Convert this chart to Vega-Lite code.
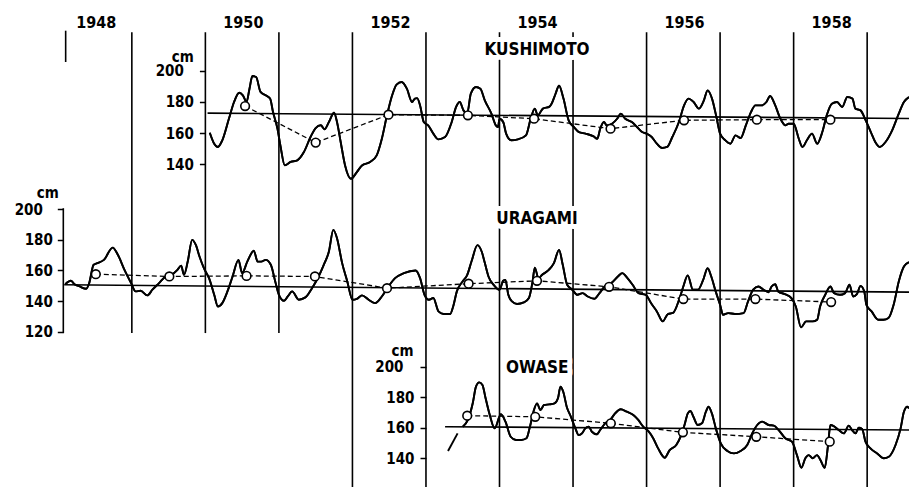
{
  "$schema": "https://vega.github.io/schema/vega-lite/v6.json",
  "padding": 0,
  "spacing": 0,
  "bounds": "flush",
  "background": "white",
  "config": {
    "view": {"stroke": null},
    "axis": {
      "labelFont": "DejaVu Sans Condensed", "labelFontSize": 15, "labelFontWeight": "bold", "labelColor": "black",
      "tickColor": "black", "tickWidth": 1.5, "tickSize": 6, "domain": false, "grid": false,
      "titleFont": "DejaVu Sans Condensed", "titleFontSize": 15, "titleFontWeight": "bold", "titleColor": "black",
      "titleAngle": 0, "titleAlign": "right", "titleBaseline": "alphabetic",
      "labelOverlap": false, "labelFlush": false, "labelBound": false
    }
  },
  "datasets": {
    "years": [{"t":1949},{"t":1950},{"t":1951},{"t":1952},{"t":1953},{"t":1954},{"t":1955},{"t":1956},{"t":1957},{"t":1958},{"t":1959}],
    "yearLabels": [{"t":1948,"label":"1948"},{"t":1950,"label":"1950"},{"t":1952,"label":"1952"},{"t":1954,"label":"1954"},{"t":1956,"label":"1956"},{"t":1958,"label":"1958"}],
    "kushimoto": [
      {"t":1950.06,"v":160.2},{"t":1950.12,"v":153.1},{"t":1950.17,"v":151},{"t":1950.23,"v":155.3},{"t":1950.32,"v":169.2},{"t":1950.39,"v":180},{"t":1950.46,"v":186},{"t":1950.51,"v":184.3},{"t":1950.56,"v":180},{"t":1950.6,"v":188.6},{"t":1950.64,"v":196.8},{"t":1950.69,"v":196.1},{"t":1950.75,"v":186.5},{"t":1950.82,"v":184.3},{"t":1950.88,"v":182.2},{"t":1950.92,"v":173.5},{"t":1950.98,"v":162.8},
      {"t":1951.02,"v":152},{"t":1951.08,"v":139.1},{"t":1951.16,"v":141.3},{"t":1951.25,"v":142.4},{"t":1951.34,"v":147.7},{"t":1951.43,"v":157.4},{"t":1951.5,"v":163.2},{"t":1951.57,"v":165},{"t":1951.62,"v":162.4},{"t":1951.68,"v":167.1},{"t":1951.75,"v":173.1},{"t":1951.79,"v":167.1},{"t":1951.84,"v":154.2},{"t":1951.9,"v":139.1},{"t":1951.98,"v":130.5},
      {"t":1952.06,"v":134.8},{"t":1952.13,"v":139.1},{"t":1952.24,"v":141.3},{"t":1952.33,"v":145.6},{"t":1952.4,"v":156.3},{"t":1952.47,"v":171.4},{"t":1952.54,"v":184.3},{"t":1952.6,"v":191.2},{"t":1952.67,"v":192.9},{"t":1952.74,"v":188.6},{"t":1952.81,"v":180},{"t":1952.85,"v":182.2},{"t":1952.88,"v":182.5},{"t":1952.92,"v":177.8},{"t":1952.97,"v":167.1},
      {"t":1953.03,"v":164.9},{"t":1953.1,"v":159.6},{"t":1953.17,"v":155.9},{"t":1953.26,"v":157.4},{"t":1953.35,"v":167.1},{"t":1953.41,"v":176.8},{"t":1953.46,"v":180},{"t":1953.51,"v":174.6},{"t":1953.56,"v":172.5},{"t":1953.61,"v":185.4},{"t":1953.68,"v":189.7},{"t":1953.74,"v":188.6},{"t":1953.8,"v":181.1},{"t":1953.89,"v":172.5},{"t":1953.95,"v":164.9},{"t":1953.98,"v":163.9},
      {"t":1954.0,"v":169.2},{"t":1954.05,"v":167.1},{"t":1954.09,"v":159.6},{"t":1954.16,"v":155.3},{"t":1954.25,"v":155.9},{"t":1954.36,"v":158.5},{"t":1954.43,"v":170.3},{"t":1954.48,"v":175.7},{"t":1954.52,"v":171.4},{"t":1954.59,"v":175.7},{"t":1954.68,"v":177},{"t":1954.71,"v":179},{"t":1954.76,"v":185},{"t":1954.81,"v":190.5},{"t":1954.87,"v":182.2},{"t":1954.94,"v":168.2},
      {"t":1955.01,"v":163.9},{"t":1955.08,"v":160.6},{"t":1955.17,"v":159.6},{"t":1955.28,"v":157.8},{"t":1955.33,"v":156.3},{"t":1955.37,"v":162.8},{"t":1955.42,"v":167.1},{"t":1955.46,"v":164.9},{"t":1955.53,"v":166},{"t":1955.6,"v":169.2},{"t":1955.65,"v":172.5},{"t":1955.71,"v":169.2},{"t":1955.8,"v":167.1},{"t":1955.87,"v":163.9},{"t":1955.94,"v":160.6},
      {"t":1956.0,"v":159.6},{"t":1956.07,"v":157.4},{"t":1956.14,"v":153.1},{"t":1956.21,"v":150.3},{"t":1956.28,"v":151},{"t":1956.35,"v":157.4},{"t":1956.44,"v":167.1},{"t":1956.51,"v":177.8},{"t":1956.57,"v":182.2},{"t":1956.64,"v":180},{"t":1956.71,"v":175.7},{"t":1956.78,"v":181.1},{"t":1956.83,"v":187.5},{"t":1956.89,"v":182.2},{"t":1956.95,"v":170.3},
      {"t":1957.0,"v":159.6},{"t":1957.07,"v":155.3},{"t":1957.14,"v":153.1},{"t":1957.21,"v":158.5},{"t":1957.28,"v":156.8},{"t":1957.35,"v":164.9},{"t":1957.42,"v":173.5},{"t":1957.48,"v":177.8},{"t":1957.56,"v":177.8},{"t":1957.63,"v":180},{"t":1957.68,"v":183.9},{"t":1957.75,"v":177.8},{"t":1957.82,"v":169.2},{"t":1957.89,"v":164.9},{"t":1957.93,"v":166},
      {"t":1958.0,"v":166},{"t":1958.07,"v":156.3},{"t":1958.12,"v":151},{"t":1958.18,"v":155.3},{"t":1958.25,"v":159.6},{"t":1958.32,"v":153.1},{"t":1958.39,"v":160.6},{"t":1958.45,"v":171.4},{"t":1958.52,"v":178.9},{"t":1958.59,"v":180},{"t":1958.66,"v":176.8},{"t":1958.73,"v":183.2},{"t":1958.8,"v":182.2},{"t":1958.84,"v":175.7},{"t":1958.91,"v":174.6},{"t":1958.98,"v":168.2},
      {"t":1959.05,"v":160.6},{"t":1959.11,"v":154.2},{"t":1959.17,"v":151},{"t":1959.25,"v":154.2},{"t":1959.34,"v":161.7},{"t":1959.43,"v":172.5},{"t":1959.5,"v":180},{"t":1959.569,"v":183.2}
    ],
    "kushimotoTrend": [{"t":1950.03,"v":172.8},{"t":1959.569,"v":169.4}],
    "kushimotoMeans": [{"t":1950.54,"v":177.4},{"t":1951.5,"v":153.8},{"t":1952.49,"v":171.8},{"t":1953.57,"v":171.4},{"t":1954.47,"v":169.2},{"t":1955.51,"v":162.8},{"t":1956.51,"v":168.2},{"t":1957.5,"v":168.6},{"t":1958.5,"v":168.6}],
    "uragami": [
      {"t":1948.095,"v":151.1},{"t":1948.17,"v":153.3},{"t":1948.22,"v":151.1},{"t":1948.29,"v":149.6},{"t":1948.38,"v":148.1},{"t":1948.42,"v":151.8},{"t":1948.48,"v":163.7},{"t":1948.53,"v":164.8},{"t":1948.62,"v":166.9},{"t":1948.74,"v":174.9},{"t":1948.81,"v":170.2},{"t":1948.9,"v":160.4},{"t":1948.99,"v":151.8},
      {"t":1949.05,"v":146.4},{"t":1949.12,"v":146.8},{"t":1949.21,"v":143.8},{"t":1949.28,"v":147.5},{"t":1949.37,"v":151.8},{"t":1949.46,"v":156.1},{"t":1949.54,"v":157.2},{"t":1949.62,"v":160.4},{"t":1949.67,"v":163.2},{"t":1949.71,"v":157.2},{"t":1949.76,"v":165.8},{"t":1949.82,"v":179.9},{"t":1949.87,"v":176.6},{"t":1949.92,"v":169.1},{"t":1949.98,"v":161.5},
      {"t":1950.05,"v":155},{"t":1950.12,"v":144.2},{"t":1950.17,"v":136.6},{"t":1950.23,"v":138.8},{"t":1950.3,"v":146.4},{"t":1950.37,"v":156.1},{"t":1950.45,"v":166.9},{"t":1950.5,"v":158.3},{"t":1950.57,"v":165.8},{"t":1950.66,"v":172.8},{"t":1950.71,"v":165.8},{"t":1950.76,"v":165.8},{"t":1950.82,"v":166.9},{"t":1950.89,"v":163.7},{"t":1950.95,"v":152.9},
      {"t":1951.0,"v":144.2},{"t":1951.07,"v":140.3},{"t":1951.12,"v":143.1},{"t":1951.18,"v":146.4},{"t":1951.27,"v":141},{"t":1951.36,"v":142.5},{"t":1951.45,"v":148.5},{"t":1951.54,"v":156.1},{"t":1951.61,"v":163.7},{"t":1951.68,"v":172.3},{"t":1951.74,"v":186.4},{"t":1951.79,"v":181},{"t":1951.86,"v":164.8},{"t":1951.93,"v":152.9},
      {"t":1952.0,"v":141},{"t":1952.06,"v":141.6},{"t":1952.13,"v":143.8},{"t":1952.22,"v":141},{"t":1952.31,"v":138.8},{"t":1952.4,"v":143.1},{"t":1952.49,"v":149.6},{"t":1952.58,"v":155},{"t":1952.7,"v":158.3},{"t":1952.86,"v":160},{"t":1952.92,"v":155},{"t":1952.98,"v":144.2},
      {"t":1953.04,"v":141},{"t":1953.1,"v":142.1},{"t":1953.17,"v":133.4},{"t":1953.24,"v":131.7},{"t":1953.33,"v":131.7},{"t":1953.37,"v":136.6},{"t":1953.42,"v":146.4},{"t":1953.5,"v":153},{"t":1953.56,"v":157},{"t":1953.62,"v":166},{"t":1953.7,"v":176.5},{"t":1953.76,"v":172},{"t":1953.8,"v":165},{"t":1953.85,"v":156.1},{"t":1953.92,"v":150.7},
      {"t":1954.0,"v":147.5},{"t":1954.05,"v":153.3},{"t":1954.08,"v":153.9},{"t":1954.12,"v":144.2},{"t":1954.17,"v":139.9},{"t":1954.24,"v":138.2},{"t":1954.33,"v":139.2},{"t":1954.4,"v":142.1},{"t":1954.45,"v":152.9},{"t":1954.48,"v":161.9},{"t":1954.53,"v":155},{"t":1954.58,"v":157.2},{"t":1954.67,"v":160.4},{"t":1954.74,"v":164.8},{"t":1954.81,"v":173.4},{"t":1954.86,"v":163.7},{"t":1954.92,"v":150.7},{"t":1954.99,"v":147.5},
      {"t":1955.06,"v":144.2},{"t":1955.13,"v":145.3},{"t":1955.2,"v":143.1},{"t":1955.29,"v":141.6},{"t":1955.36,"v":145.3},{"t":1955.43,"v":149.6},{"t":1955.52,"v":151.8},{"t":1955.61,"v":156.1},{"t":1955.67,"v":158.3},{"t":1955.74,"v":155},{"t":1955.81,"v":150.7},{"t":1955.89,"v":145.3},{"t":1955.99,"v":144.2},
      {"t":1956.06,"v":138.8},{"t":1956.14,"v":133.4},{"t":1956.22,"v":126.9},{"t":1956.29,"v":131.7},{"t":1956.36,"v":132.4},{"t":1956.45,"v":142.1},{"t":1956.5,"v":149.6},{"t":1956.56,"v":156.8},{"t":1956.63,"v":147.5},{"t":1956.7,"v":147.5},{"t":1956.77,"v":153.9},{"t":1956.83,"v":161.5},{"t":1956.88,"v":156.1},{"t":1956.94,"v":146.4},
      {"t":1957.0,"v":137.7},{"t":1957.04,"v":131.2},{"t":1957.11,"v":132.3},{"t":1957.2,"v":131.7},{"t":1957.32,"v":132.3},{"t":1957.38,"v":139.9},{"t":1957.45,"v":147.5},{"t":1957.52,"v":149.6},{"t":1957.59,"v":147.5},{"t":1957.66,"v":145.9},{"t":1957.7,"v":149.6},{"t":1957.75,"v":151.1},{"t":1957.79,"v":146.4},{"t":1957.88,"v":144.6},{"t":1957.97,"v":142.1},
      {"t":1958.03,"v":136.6},{"t":1958.1,"v":123},{"t":1958.17,"v":126.9},{"t":1958.26,"v":126.9},{"t":1958.32,"v":128},{"t":1958.36,"v":136.6},{"t":1958.43,"v":144.2},{"t":1958.5,"v":149.6},{"t":1958.55,"v":145.3},{"t":1958.63,"v":144.2},{"t":1958.7,"v":145.3},{"t":1958.76,"v":150.7},{"t":1958.81,"v":143.1},{"t":1958.86,"v":144.6},{"t":1958.91,"v":150},{"t":1958.96,"v":146.4},{"t":1958.99,"v":137.7},
      {"t":1959.06,"v":133.4},{"t":1959.15,"v":128},{"t":1959.22,"v":128},{"t":1959.29,"v":129.1},{"t":1959.36,"v":137.7},{"t":1959.43,"v":152.9},{"t":1959.5,"v":162.6},{"t":1959.569,"v":165.4}
    ],
    "uragamiTrend": [{"t":1948.08,"v":150.7},{"t":1959.569,"v":145.9}],
    "uragamiMeans": [{"t":1948.51,"v":157.6},{"t":1949.51,"v":156.1},{"t":1950.56,"v":156.5},{"t":1951.49,"v":156.1},{"t":1952.47,"v":148.5},{"t":1953.58,"v":151.4},{"t":1954.51,"v":153.3},{"t":1955.49,"v":149.4},{"t":1956.5,"v":141.4},{"t":1957.48,"v":141.4},{"t":1958.51,"v":139.5}],
    "owase": [
      {"t":1953.5,"v":160.7},{"t":1953.57,"v":165.1},{"t":1953.636,"v":176},{"t":1953.68,"v":186.9},{"t":1953.724,"v":189.7},{"t":1953.768,"v":188},{"t":1953.811,"v":179.3},{"t":1953.868,"v":168.3},{"t":1953.934,"v":159.6},
      {"t":1954.019,"v":168.8},{"t":1954.081,"v":164},{"t":1954.152,"v":154.1},{"t":1954.224,"v":152},{"t":1954.295,"v":152},{"t":1954.367,"v":153.1},{"t":1954.414,"v":160.7},{"t":1954.462,"v":170.5},{"t":1954.51,"v":176},{"t":1954.557,"v":171.6},{"t":1954.605,"v":174.9},{"t":1954.676,"v":175.3},{"t":1954.748,"v":176},{"t":1954.795,"v":179.3},{"t":1954.829,"v":186.9},{"t":1954.867,"v":183.6},{"t":1954.914,"v":173.8},{"t":1954.971,"v":167.2},
      {"t":1955.032,"v":159.6},{"t":1955.077,"v":155.2},{"t":1955.122,"v":156.3},{"t":1955.167,"v":159.6},{"t":1955.212,"v":160.7},{"t":1955.257,"v":157.4},{"t":1955.324,"v":155.7},{"t":1955.369,"v":158.5},{"t":1955.437,"v":162.9},{"t":1955.505,"v":165.1},{"t":1955.572,"v":169.4},{"t":1955.649,"v":172.1},{"t":1955.73,"v":170.5},{"t":1955.82,"v":168.3},{"t":1955.887,"v":165.1},{"t":1955.955,"v":160.7},
      {"t":1956.022,"v":157.9},{"t":1956.09,"v":153.1},{"t":1956.157,"v":146.5},{"t":1956.247,"v":140.4},{"t":1956.314,"v":145.4},{"t":1956.404,"v":148.7},{"t":1956.471,"v":155.2},{"t":1956.516,"v":161.8},{"t":1956.561,"v":169.4},{"t":1956.596,"v":171},{"t":1956.637,"v":167.2},{"t":1956.695,"v":161.8},{"t":1956.753,"v":162.9},{"t":1956.807,"v":170.5},{"t":1956.843,"v":173.8},{"t":1956.888,"v":169.4},{"t":1956.942,"v":159.6},
      {"t":1957.009,"v":149.8},{"t":1957.099,"v":144.8},{"t":1957.189,"v":143.2},{"t":1957.279,"v":144.8},{"t":1957.369,"v":148.7},{"t":1957.437,"v":156.3},{"t":1957.505,"v":161.8},{"t":1957.572,"v":164},{"t":1957.662,"v":161.8},{"t":1957.73,"v":161.4},{"t":1957.797,"v":158.5},{"t":1957.887,"v":153.1},{"t":1957.977,"v":150.9},
      {"t":1958.045,"v":142.1},{"t":1958.105,"v":133.8},{"t":1958.159,"v":140},{"t":1958.205,"v":142.1},{"t":1958.259,"v":140},{"t":1958.318,"v":142.1},{"t":1958.364,"v":138.9},{"t":1958.423,"v":133.8},{"t":1958.468,"v":148.7},{"t":1958.5,"v":161.8},{"t":1958.545,"v":161.1},{"t":1958.614,"v":158.5},{"t":1958.682,"v":156.3},{"t":1958.75,"v":161.4},{"t":1958.795,"v":158.5},{"t":1958.841,"v":156.3},{"t":1958.886,"v":160},{"t":1958.932,"v":159.2},{"t":1958.977,"v":150.9},
      {"t":1959.045,"v":146.5},{"t":1959.136,"v":143.2},{"t":1959.227,"v":140},{"t":1959.295,"v":141},{"t":1959.386,"v":148.7},{"t":1959.455,"v":159.6},{"t":1959.5,"v":170.5},{"t":1959.545,"v":173.8},{"t":1959.569,"v":172.7}
    ],
    "owaseStub": [{"t":1953.3,"v":144.8},{"t":1953.43,"v":156.3}],
    "owaseTrend": [{"t":1953.26,"v":160.7},{"t":1959.569,"v":158.5}],
    "owaseMeans": [{"t":1953.561,"v":167.9},{"t":1954.486,"v":167.2},{"t":1955.514,"v":162.9},{"t":1956.494,"v":157},{"t":1957.492,"v":154.1},{"t":1958.491,"v":150.9}]
  },
  "vconcat": [
    {
      "width": 909, "height": 190,
      "layer": [
        {"data": {"name": "kushimoto"}, "mark": {"type": "line", "color": "black", "strokeWidth": 1.9, "interpolate": "monotone"},
          "encoding": {
            "x": {"field": "t", "type": "quantitative", "scale": {"domain": [1947.207, 1959.569], "nice": false, "zero": false}, "axis": null},
            "y": {"field": "v", "type": "quantitative", "scale": {"domain": [123.23, 245.8], "nice": false, "zero": false},
              "axis": {"values": [140, 160, 180, 200], "tickCount": 20, "offset": -205.4, "title": "cm", "titleX": -12, "titleY": 61, "labelOverlap": false,
                "labelPadding": {"condition": {"test": "datum.value === 200", "value": 16}, "value": 6}}}
          }},
        {"data": {"name": "years"}, "mark": {"type": "rule", "color": "black", "strokeWidth": 1.6},
          "encoding": {"x": {"field": "t", "type": "quantitative"}, "y": {"datum": 225}, "y2": {"datum": 123.23}}},
        {"data": {"values": [{}]}, "mark": {"type": "rule", "color": "black", "strokeWidth": 1.6},
          "encoding": {"x": {"datum": 1948.1}, "y": {"datum": 226}, "y2": {"datum": 205.8}}},
        {"data": {"name": "yearLabels"}, "mark": {"type": "text", "dx": 38, "font": "DejaVu Sans Condensed", "fontSize": 16, "fontWeight": "bold", "baseline": "middle", "align": "center", "color": "black"},
          "encoding": {"x": {"field": "t", "type": "quantitative"}, "y": {"datum": 231}, "text": {"field": "label", "type": "nominal"}}},
        {"data": {"values": [{}]}, "mark": {"type": "text", "text": "KUSHIMOTO", "font": "DejaVu Sans Condensed", "fontSize": 17, "fontWeight": "bold", "baseline": "middle", "align": "center", "fill": "white", "stroke": "white", "strokeWidth": 10, "strokeJoin": "round"},
          "encoding": {"x": {"datum": 1954.51}, "y": {"datum": 213.5}}},
        {"data": {"values": [{}]}, "mark": {"type": "text", "text": "KUSHIMOTO", "font": "DejaVu Sans Condensed", "fontSize": 17, "fontWeight": "bold", "baseline": "middle", "align": "center", "color": "black"},
          "encoding": {"x": {"datum": 1954.51}, "y": {"datum": 213.5}}},
        {"data": {"name": "kushimotoTrend"}, "mark": {"type": "line", "color": "black", "strokeWidth": 1.6},
          "encoding": {"x": {"field": "t", "type": "quantitative"}, "y": {"field": "v", "type": "quantitative"}}},
        {"data": {"name": "kushimoto"}, "mark": {"type": "line", "color": "black", "strokeWidth": 1.9, "interpolate": "monotone"},
          "encoding": {"x": {"field": "t", "type": "quantitative"}, "y": {"field": "v", "type": "quantitative"}}},
        {"data": {"name": "kushimotoMeans"}, "mark": {"type": "line", "color": "black", "strokeWidth": 1.3, "strokeDash": [5, 3]},
          "encoding": {"x": {"field": "t", "type": "quantitative"}, "y": {"field": "v", "type": "quantitative"}}},
        {"data": {"name": "kushimotoMeans"}, "mark": {"type": "point", "shape": "circle", "filled": true, "fill": "white", "stroke": "black", "strokeWidth": 1.6, "size": 75, "opacity": 1},
          "encoding": {"x": {"field": "t", "type": "quantitative"}, "y": {"field": "v", "type": "quantitative"}}}
      ]
    },
    {
      "width": 909, "height": 155,
      "layer": [
        {"data": {"name": "uragami"}, "mark": {"type": "line", "color": "black", "strokeWidth": 1.9, "interpolate": "monotone"},
          "encoding": {
            "x": {"field": "t", "type": "quantitative", "scale": {"domain": [1947.207, 1959.569], "nice": false, "zero": false}, "axis": null},
            "y": {"field": "v", "type": "quantitative", "scale": {"domain": [111.54, 212.36], "nice": false, "zero": false},
              "axis": {"values": [120, 140, 160, 180, 200], "tickCount": 20, "offset": -63.3, "title": "cm", "titleX": -5, "titleY": 7, "labelOverlap": false,
                "labelPadding": {"condition": {"test": "datum.value === 200", "value": 15}, "value": 5}}}
          }},
        {"data": {"name": "years"}, "transform": [{"filter": "datum.t <= 1951"}], "mark": {"type": "rule", "color": "black", "strokeWidth": 1.6},
          "encoding": {"x": {"field": "t", "type": "quantitative"}, "y": {"datum": 212.36}, "y2": {"datum": 119.3}}},
        {"data": {"name": "years"}, "transform": [{"filter": "datum.t >= 1952"}], "mark": {"type": "rule", "color": "black", "strokeWidth": 1.6},
          "encoding": {"x": {"field": "t", "type": "quantitative"}, "y": {"datum": 212.36}, "y2": {"datum": 111.54}}},
        {"data": {"values": [{}]}, "mark": {"type": "rule", "color": "black", "strokeWidth": 1.6},
          "encoding": {"x": {"datum": 1948.068}, "y": {"datum": 200.5}, "y2": {"datum": 119.3}}},
        {"data": {"values": [{}]}, "mark": {"type": "text", "text": "URAGAMI", "font": "DejaVu Sans Condensed", "fontSize": 17, "fontWeight": "bold", "baseline": "middle", "align": "center", "fill": "white", "stroke": "white", "strokeWidth": 10, "strokeJoin": "round"},
          "encoding": {"x": {"datum": 1954.51}, "y": {"datum": 193.5}}},
        {"data": {"values": [{}]}, "mark": {"type": "text", "text": "URAGAMI", "font": "DejaVu Sans Condensed", "fontSize": 17, "fontWeight": "bold", "baseline": "middle", "align": "center", "color": "black"},
          "encoding": {"x": {"datum": 1954.51}, "y": {"datum": 193.5}}},
        {"data": {"name": "uragamiTrend"}, "mark": {"type": "line", "color": "black", "strokeWidth": 1.6},
          "encoding": {"x": {"field": "t", "type": "quantitative"}, "y": {"field": "v", "type": "quantitative"}}},
        {"data": {"name": "uragami"}, "mark": {"type": "line", "color": "black", "strokeWidth": 1.9, "interpolate": "monotone"},
          "encoding": {"x": {"field": "t", "type": "quantitative"}, "y": {"field": "v", "type": "quantitative"}}},
        {"data": {"name": "uragamiMeans"}, "mark": {"type": "line", "color": "black", "strokeWidth": 1.3, "strokeDash": [5, 3]},
          "encoding": {"x": {"field": "t", "type": "quantitative"}, "y": {"field": "v", "type": "quantitative"}}},
        {"data": {"name": "uragamiMeans"}, "mark": {"type": "point", "shape": "circle", "filled": true, "fill": "white", "stroke": "black", "strokeWidth": 1.6, "size": 75, "opacity": 1},
          "encoding": {"x": {"field": "t", "type": "quantitative"}, "y": {"field": "v", "type": "quantitative"}}}
      ]
    },
    {
      "width": 909, "height": 142,
      "layer": [
        {"data": {"name": "owase"}, "mark": {"type": "line", "color": "black", "strokeWidth": 1.9, "interpolate": "monotone"},
          "encoding": {
            "x": {"field": "t", "type": "quantitative", "scale": {"domain": [1947.207, 1959.569], "nice": false, "zero": false}, "axis": null},
            "y": {"field": "v", "type": "quantitative", "scale": {"domain": [121.2, 214.2], "nice": false, "zero": false},
              "axis": {"values": [140, 160, 180, 200], "tickCount": 20, "offset": -426, "title": "cm", "titleX": -13, "titleY": 10, "labelOverlap": false,
                "labelPadding": {"condition": {"test": "datum.value === 200", "value": 17}, "value": 6}}}
          }},
        {"data": {"name": "years"}, "transform": [{"filter": "datum.t >= 1952"}], "mark": {"type": "rule", "color": "black", "strokeWidth": 1.6},
          "encoding": {"x": {"field": "t", "type": "quantitative"}, "y": {"datum": 214.2}, "y2": {"datum": 121.2}}},
        {"data": {"values": [{}]}, "mark": {"type": "text", "text": "OWASE", "font": "DejaVu Sans Condensed", "fontSize": 17, "fontWeight": "bold", "baseline": "middle", "align": "center", "fill": "white", "stroke": "white", "strokeWidth": 10, "strokeJoin": "round"},
          "encoding": {"x": {"datum": 1954.514}, "y": {"datum": 198.9}}},
        {"data": {"values": [{}]}, "mark": {"type": "text", "text": "OWASE", "font": "DejaVu Sans Condensed", "fontSize": 17, "fontWeight": "bold", "baseline": "middle", "align": "center", "color": "black"},
          "encoding": {"x": {"datum": 1954.514}, "y": {"datum": 198.9}}},
        {"data": {"name": "owaseTrend"}, "mark": {"type": "line", "color": "black", "strokeWidth": 1.6},
          "encoding": {"x": {"field": "t", "type": "quantitative"}, "y": {"field": "v", "type": "quantitative"}}},
        {"data": {"name": "owaseStub"}, "mark": {"type": "line", "color": "black", "strokeWidth": 1.9},
          "encoding": {"x": {"field": "t", "type": "quantitative"}, "y": {"field": "v", "type": "quantitative"}}},
        {"data": {"name": "owase"}, "mark": {"type": "line", "color": "black", "strokeWidth": 1.9, "interpolate": "monotone"},
          "encoding": {"x": {"field": "t", "type": "quantitative"}, "y": {"field": "v", "type": "quantitative"}}},
        {"data": {"name": "owaseMeans"}, "mark": {"type": "line", "color": "black", "strokeWidth": 1.3, "strokeDash": [5, 3]},
          "encoding": {"x": {"field": "t", "type": "quantitative"}, "y": {"field": "v", "type": "quantitative"}}},
        {"data": {"name": "owaseMeans"}, "mark": {"type": "point", "shape": "circle", "filled": true, "fill": "white", "stroke": "black", "strokeWidth": 1.6, "size": 75, "opacity": 1},
          "encoding": {"x": {"field": "t", "type": "quantitative"}, "y": {"field": "v", "type": "quantitative"}}}
      ]
    }
  ]
}
